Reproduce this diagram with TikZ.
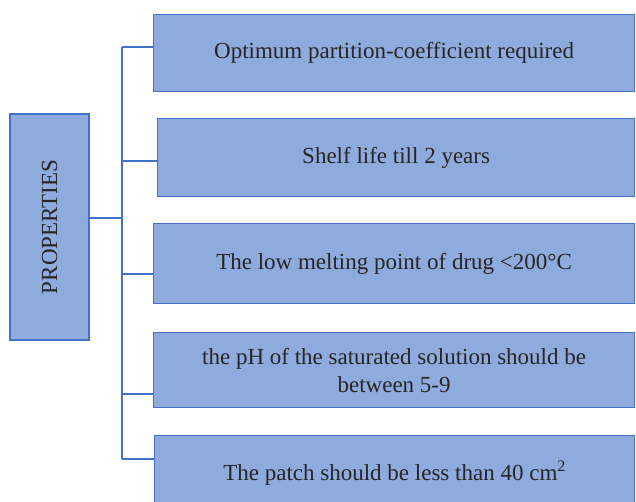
\documentclass[tikz,border=0pt]{standalone}
\usepackage{fontspec}
\setmainfont{Liberation Serif}
\definecolor{boxfill}{HTML}{8FAADC}
\definecolor{boxline}{HTML}{4472C4}
\tikzset{
  propbox/.style={draw=boxline,fill=boxfill,line width=1.2pt,inner sep=0pt,align=center,
    text=black!85,font=\fontsize{23}{28}\selectfont},
  link/.style={draw=boxline,line width=1.8pt}
}

\begin{document}
\begin{tikzpicture}[x=1pt,y=-1pt]
  \useasboundingbox (0,0) rectangle (636,501);
  \node[propbox,rotate=90,minimum width=226pt,minimum height=79pt] (prop) at (49.5,227) {PROPERTIES};
  \node[propbox,anchor=north west,minimum width=481pt,minimum height=77pt] (opt) at (153,14) {Optimum partition-coefficient required};
  \node[propbox,anchor=north west,minimum width=477pt,minimum height=78pt] (shelf) at (157,118) {Shelf life till 2 years};
  \node[propbox,anchor=north west,minimum width=481pt,minimum height=80pt] (melt) at (153,223) {The low melting point of drug <200°C};
  \node[propbox,anchor=north west,minimum width=481pt,minimum height=75pt] (ph) at (153,332) {the pH of the saturated solution should be\\between 5-9};
  \node[propbox,anchor=north west,minimum width=480pt,minimum height=75pt] (patch) at (154,435) {The patch should be less than 40 cm\textsuperscript{2}};
  % branches
  \foreach \n/\y in {opt/47,shelf/161,melt/274,ph/394,patch/459}{
    \coordinate (b\n) at (122,\y);
    \draw[link] (b\n) -- (b\n -| \n.west);
  }
  \draw[link] (bopt) -- (bpatch);
  \draw[link] ([yshift=9pt]prop.south) -- ++(33,0);
\end{tikzpicture}
\end{document}
